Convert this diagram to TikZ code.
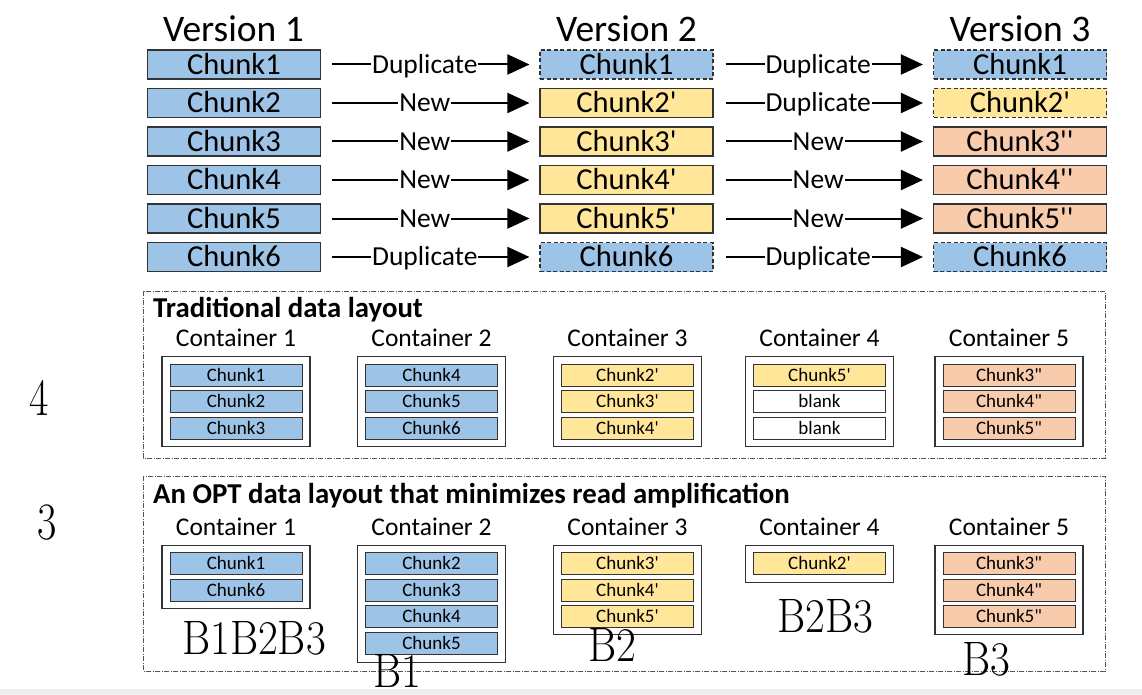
\documentclass[tikz,border=0pt]{standalone}
\usepackage{fontspec}
\newfontfamily\calfont[Ligatures=TeXOff]{Carlito}
\usetikzlibrary{arrows.meta}
\definecolor{cblue}{HTML}{9DC3E6}
\definecolor{cyel}{HTML}{FFE699}
\definecolor{cpeach}{HTML}{F8CBAD}
\definecolor{bord}{HTML}{333333}
\definecolor{stripgray}{HTML}{EEEEEE}
\definecolor{dashgray}{HTML}{555555}
\begin{document}
\begin{tikzpicture}[x=1pt,y=-1pt,
  big/.style={draw=bord, line width=1.1pt, minimum width=173pt, minimum height=29pt, inner sep=0pt,
    font=\calfont\fontsize{30.5}{31}\selectfont, text height=19.3pt, text depth=0pt},
  dup/.style={dash pattern=on 4pt off 2.5pt},
  ver/.style={font=\calfont\fontsize{37.5}{38}\selectfont, inner sep=0pt, text height=23.7pt, text depth=0pt},
  lbl/.style={fill=white, inner xsep=1pt, inner ysep=0pt, font=\calfont\fontsize{27.5}{28}\selectfont, text height=17.4pt, text depth=0pt},
  arr/.style={line width=2pt, -{Triangle[length=22pt,width=20pt]}},
  cont/.style={draw=bord, line width=1.1pt, minimum width=148pt, inner sep=0pt, anchor=north},
  small/.style={draw=bord, line width=1pt, minimum width=132pt, minimum height=22pt, inner sep=0pt,
    font=\calfont\fontsize{19}{19}\selectfont, text height=12pt, text depth=0pt},
  clab/.style={font=\calfont\fontsize{25.5}{26}\selectfont, inner sep=0pt, text height=16.1pt, text depth=0pt},
  ttl/.style={font=\calfont\bfseries\fontsize{28.8}{29}\selectfont, inner sep=0pt, anchor=west, text height=18.2pt, text depth=0pt},
  outer/.style={draw=dashgray, line width=0.8pt, dash pattern=on 5pt off 1.5pt on 1pt off 1.5pt},
  bl/.style={inner sep=0pt, font=\fontsize{43}{43}\selectfont},
  num/.style={inner sep=0pt, font=\fontsize{42}{42}\selectfont}
]
\useasboundingbox (0,0) rectangle (1142,695);
\fill[white] (0,0) rectangle (1142,695);
\fill[stripgray] (0,689) rectangle (1142,695);

% version titles
\node[ver] (ver1) at (233.5,30) {Version 1};
\node[ver] (ver2) at (626.5,30) {Version 2};
\node[ver] (ver3) at (1020,30) {Version 3};

% rows
\node[big, fill=cblue] (a1) at (234,64.5) {Chunk1};
\node[big, fill=cblue] (a2) at (234,103) {Chunk2};
\node[big, fill=cblue] (a3) at (234,141.5) {Chunk3};
\node[big, fill=cblue] (a4) at (234,180) {Chunk4};
\node[big, fill=cblue] (a5) at (234,218.5) {Chunk5};
\node[big, fill=cblue] (a6) at (234,257) {Chunk6};

\node[big, fill=cblue, dup] (b1) at (626.5,64.5) {Chunk1};
\node[big, fill=cyel] (b2) at (626.5,103) {Chunk2'};
\node[big, fill=cyel] (b3) at (626.5,141.5) {Chunk3'};
\node[big, fill=cyel] (b4) at (626.5,180) {Chunk4'};
\node[big, fill=cyel] (b5) at (626.5,218.5) {Chunk5'};
\node[big, fill=cblue, dup] (b6) at (626.5,257) {Chunk6};

\node[big, fill=cblue, dup] (c1) at (1020,64.5) {Chunk1};
\node[big, fill=cyel, dup] (c2) at (1020,103) {Chunk2'};
\node[big, fill=cpeach] (c3) at (1020,141.5) {Chunk3''};
\node[big, fill=cpeach] (c4) at (1020,180) {Chunk4''};
\node[big, fill=cpeach] (c5) at (1020,218.5) {Chunk5''};
\node[big, fill=cblue, dup] (c6) at (1020,257) {Chunk6};

\foreach \i/\la/\lb in {1/Duplicate/Duplicate, 2/New/Duplicate, 3/New/New, 4/New/New, 5/New/New, 6/Duplicate/Duplicate}{
  \draw[arr, shorten <=11pt, shorten >=10pt] (a\i.east) -- node[lbl, pos=0.475] {\la} (b\i.west);
  \draw[arr, shorten <=12pt, shorten >=10pt] (b\i.east) -- node[lbl, pos=0.477] {\lb} (c\i.west);
}

% traditional layout
\draw[outer] (143,291) rectangle (1105,458);
\node[ttl] (ttrad) at (153,308) {Traditional data layout};
\foreach \n/\x in {1/236, 2/431.5, 3/627.5, 4/819.5, 5/1009}{
  \node[clab] (tl\n) at (\x,338.5) {Container \n};
  \node[cont, minimum height=90pt] (tc\n) at (\x,356) {};
}
\node[small, fill=cblue] (t11) at (236,375) {Chunk1};
\node[small, fill=cblue] (t12) at (236,401.5) {Chunk2};
\node[small, fill=cblue] (t13) at (236,428) {Chunk3};
\node[small, fill=cblue] (t21) at (431.5,375) {Chunk4};
\node[small, fill=cblue] (t22) at (431.5,401.5) {Chunk5};
\node[small, fill=cblue] (t23) at (431.5,428) {Chunk6};
\node[small, fill=cyel] (t31) at (627.5,375) {Chunk2'};
\node[small, fill=cyel] (t32) at (627.5,401.5) {Chunk3'};
\node[small, fill=cyel] (t33) at (627.5,428) {Chunk4'};
\node[small, fill=cyel] (t41) at (819.5,375) {Chunk5'};
\node[small, fill=white] (t42) at (819.5,401.5) {blank};
\node[small, fill=white] (t43) at (819.5,428) {blank};
\node[small, fill=cpeach] (t51) at (1009,375) {Chunk3"};
\node[small, fill=cpeach] (t52) at (1009,401.5) {Chunk4"};
\node[small, fill=cpeach] (t53) at (1009,428) {Chunk5"};

% OPT layout
\draw[outer] (143,476) rectangle (1105,671);
\node[ttl] (topt) at (153,494) {An OPT data layout that minimizes read amplification};
\foreach \n/\x in {1/236, 2/431.5, 3/627.5, 4/819.5, 5/1009}{
  \node[clab] (ol\n) at (\x,527.5) {Container \n};
}
\node[cont, minimum height=63pt] (oc1) at (236,545) {};
\node[cont, minimum height=116.5pt] (oc2) at (431.5,545) {};
\node[cont, minimum height=89pt] (oc3) at (627.5,545) {};
\node[cont, minimum height=37pt] (oc4) at (819.5,545) {};
\node[cont, minimum height=89pt] (oc5) at (1009,545) {};
\node[small, fill=cblue] (o11) at (236,563.5) {Chunk1};
\node[small, fill=cblue] (o12) at (236,590) {Chunk6};
\node[small, fill=cblue] (o21) at (431.5,563.5) {Chunk2};
\node[small, fill=cblue] (o22) at (431.5,590) {Chunk3};
\node[small, fill=cblue] (o23) at (431.5,616.5) {Chunk4};
\node[small, fill=cblue] (o24) at (431.5,643) {Chunk5};
\node[small, fill=cyel] (o31) at (627.5,563.5) {Chunk3'};
\node[small, fill=cyel] (o32) at (627.5,590) {Chunk4'};
\node[small, fill=cyel] (o33) at (627.5,616.5) {Chunk5'};
\node[small, fill=cyel] (o41) at (819.5,563.5) {Chunk2'};
\node[small, fill=cpeach] (o51) at (1009,563.5) {Chunk3"};
\node[small, fill=cpeach] (o52) at (1009,590) {Chunk4"};
\node[small, fill=cpeach] (o53) at (1009,616.5) {Chunk5"};

% B labels
\node[bl] (bA) at (254,638) {\scalebox{1}[1.125]{B1B2B3}};
\node[bl] (bB) at (397,671) {\scalebox{1}[1.125]{B1}};
\node[bl] (bC) at (612,645) {\scalebox{1}[1.125]{B2}};
\node[bl] (bD) at (825,616) {\scalebox{1}[1.125]{B2B3}};
\node[bl] (bE) at (986,659) {\scalebox{1}[1.125]{B3}};

% side numbers
\node[num] (n4) at (39,398) {\scalebox{1}[1.25]{4}};
\node[num] (n3) at (47,523) {\scalebox{1}[1.25]{3}};
\end{tikzpicture}
\end{document}
